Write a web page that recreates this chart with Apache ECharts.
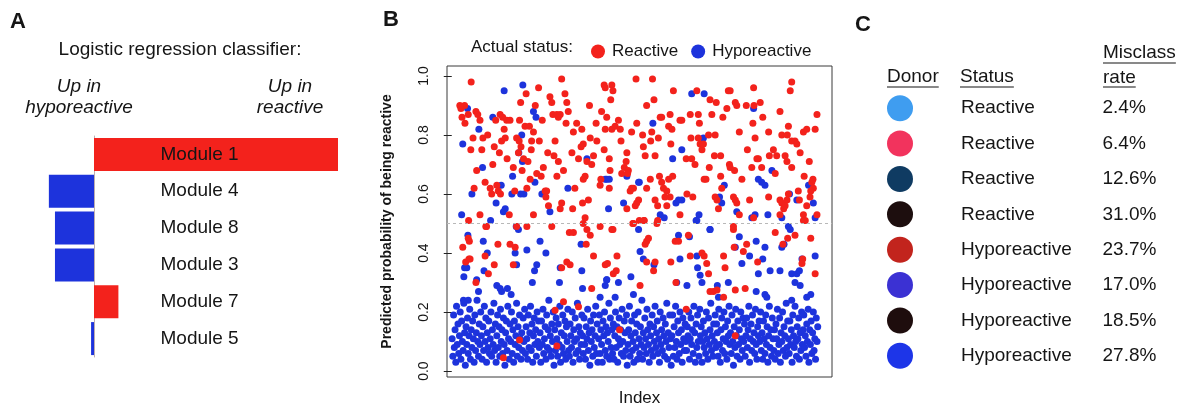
<!DOCTYPE html>
<html><head><meta charset="utf-8">
<script src="https://cdn.jsdelivr.net/npm/echarts@6/dist/echarts.min.js"></script>
<style>html,body{margin:0;padding:0;background:#fff}#c{width:1185px;height:408px}</style>
</head><body><div id="c"></div>
<script>
const FONT = '"Liberation Sans", Arial, Helvetica, sans-serif';

// ---------- Panel A: logistic regression weights ----------
const moduleNames = ['Module 1', 'Module 4', 'Module 8', 'Module 3', 'Module 7', 'Module 5'];
const moduleWeights = [1.0, -0.185, -0.16, -0.16, 0.10, -0.012];

// ---------- Panel B: predicted probability per sample index ----------
const reactive = [
 [25,.89],[35,.90],[36,.84],[45,.87],[52,.75],[53,.98],[61,.62],[46,.51],[66,.88],[71,.87],[77,.85],[82,.75],[85,.79],[68,.68],[91,.64],[105,.62],[109,.60],[77,.53],[93,.49],[116,.76],
 [132,.87],[139,.86],[150,.85],[159,.85],[130,.74],[136,.78],[146,.79],[151,.72],[123,.63],[127,.61],[133,.60],[157,.53],[168,.69],[185,.85],[188,.91],[203,.94],[177,.79],[184,.78],[189,.76],[182,.74],
 [196,.72],[200,.83],[205,.62],[212,.83],[223,.81],[218,.78],[237,.96],[239,.78],[217,.75],[214,.65],[250,.69],[244,.66],[247,.85],[255,.61],[259,.61],[257,.59],[223,.53],[264,.56],[268,.93],[273,.91],
 [276,.87],[282,.78],[287,.87],[291,.86],[296,.87],[300,.99],[279,.73],[291,.71],[287,.66],[300,.57],[309,.94],[314,.91],[318,.88],[312,.84],[296,.55],[330,.55],[328,.74],[332,.81],[341,.84],[355,.82],
 [359,.77],[353,.76],[364,.66],[359,.65],[369,.71],[373,.58],[357,.57],[364,.52],[378,.79],[394,.84],[396,.78],[387,.73],[382,.70],[405,.63],[407,.65],[409,.88],[405,.49],
 [22,.90],[28,.86],[58,.79],[98,.80],[112,.70],[120,.85],[143,.82],[172,.61],[192,.68],[208,.71],[228,.90],[232,.67],[262,.74],[305,.68],[336,.62],[346,.72],[376,.90],
 [416,.97],[419,.96],[437,.97],[440,.95],[434,.92],[423,.86],[419,.82],[437,.82],[446,.83],[455,.85],[460,.82],[462,.78],[416,.75],[430,.72],[432,.68],[430,.62],[437,.48],
 [478,.74],[476,.71],[471,.69],[482,.68],[480,.67],[464,.67],[491,.81],[505,.84],[503,.99],[496,.62],[491,.62],[487,.61],[510,.58],[501,.56],[505,.57],[478,.55],[496,.50],[512,.51],
 [532,.90],[552,.92],[548,.99],[521,.80],[546,.81],[543,.78],[523,.76],[528,.73],[555,.73],[542,.65],[532,.62],[567,.66],[555,.58],[562,.56],[569,.86],[564,.79],[525,.51],[560,.50],
 [573,.86],[596,.87],[592,.83],[601,.82],[605,.95],[598,.77],[573,.64],[578,.62],[592,.65],[587,.61],[596,.59],[582,.59],[587,.56],[603,.66],[623,.85],[623,.53],
 [628,.85],[653,.79],[651,.87],[640,.72],[655,.72],[664,.70],[658,.59],[642,.60],[669,.95],[673,.87],[676,.84],[673,.79],[678,.77],[683,.75],[687,.77],
 [705,.92],[722,.91],[710,.87],[719,.80],[701,.80],[717,.73],[703,.69],[689,.65],[694,.65],[734,.73],[734,.66],[719,.59],[724,.58],[728,.55],
 [740,.86],[751,.89],[755,.95],[760,.95],[774,.91],[778,.90],[785,.81],[758,.70],[760,.69],[772,.68],[769,.59],[774,.58],[778,.57],[737,.62],[769,.48],[785,.53],[792,.65],
 [804,.90],[824,.96],[825,.90],[822,.84],[842,.91],[849,.86],[828,.79],[807,.75],[833,.72],[837,.72],[846,.69],[819,.69],[813,.58],[824,.52],
 [865,.81],[878,.75],[867,.73],[887,.73],[883,.67],[865,.59],[896,.88],[901,.80],[896,.58],[901,.57],[906,.55],[896,.53],
 [916,.80],[928,.98],[924,.95],[919,.83],[928,.78],[937,.78],[942,.77],[910,.73],[915,.71],[951,.74],[928,.69],[919,.60],[915,.58],[910,.56],[946,.61],[960,.53],[949,.58],
 [960,.81],[969,.82],[976,.71],[992,.82],[997,.87],[986,.65],[983,.64],[987,.62],[980,.61],[978,.59],[962,.66],[969,.56],[997,.53],[965,.51],
 [30,.42],[45,.45],[48,.44],[38,.37],[47,.38],[50,.38],[66,.30],[91,.39],[100,.33],[95,.49],[116,.36],[126,.43],[159,.43],[173,.42],[168,.36],[177,.49],[205,.49],[273,.49],
 [300,.35],[314,.37],[323,.36],[321,.47],[332,.47],[367,.43],[378,.46],[369,.48],[387,.39],[382,.28],[419,.36],[359,.50],
 [185,.105],[141,.045],[282,.206],[287,.085],[305,.235],[346,.218],
 [440,.48],[494,.50],[525,.51],[562,.51],[532,.44],[537,.45],[528,.43],[610,.44],[619,.44],[646,.46],[425,.365],[451,.39],[441,.33],[449,.34],[532,.37],[551,.34],[555,.37],[598,.37],
 [651,.39],[683,.40],[689,.39],[696,.365],[701,.33],[705,.27],[714,.27],[724,.275],[742,.39],[746,.35],[742,.25],[769,.49],[771,.42],[796,.405],[805,.43],[774,.275],[801,.28],[835,.37],
 [883,.47],[904,.43],[917,.45],[937,.46],[958,.38],[956,.365],[980,.45],[992,.33],[960,.51],[514,.29],[640,.21],[612,.30],[458,.14],[774,.12]
];

const hyporeactive = [
 [43,.89],[30,.77],[55,.60],[27,.53],[74,.82],[84,.69],[112,.86],[143,.95],[135,.63],[121,.57],[146,.55],[141,.54],[164,.60],[166,.66],[194,.97],[191,.80],[183,.74],[193,.71],[188,.60],[197,.60],
 [176,.49],[223,.88],[230,.86],[227,.64],[246,.60],[268,.54],[317,.62],[369,.72],[419,.65],
 [423,.65],[430,.65],[428,.55],[478,.66],[510,.64],[512,.64],[469,.57],[549,.84],[569,.53],[603,.72],[612,.57],[619,.58],[628,.58],[580,.52],[628,.75],[655,.94],[687,.79],[675,.53],[667,.51],[689,.94],
 [731,.59],[737,.57],[705,.48],[744,.63],[778,.54],[824,.89],[837,.65],[846,.64],[855,.63],[828,.53],[819,.52],[874,.68],[863,.53],[901,.52],[922,.60],[942,.58],[919,.49],[974,.63],[987,.57],[992,.52],
 [44,.46],[41,.35],[35,.35],[33,.32],[68,.31],[73,.27],[86,.44],[97,.40],[88,.34],[106,.51],[123,.29],[132,.28],[136,.27],[152,.28],[162,.26],[173,.40],[177,.36],[182,.48],[205,.41],[220,.30],
 [226,.34],[232,.36],[241,.44],[257,.40],[296,.35],[294,.30],[355,.34],[353,.43],[357,.28],[423,.31],[419,.29],[32,.24],[45,.24],
 [510,.48],[514,.405],[523,.38],[552,.36],[619,.46],[649,.455],[623,.38],[669,.39],[671,.35],[678,.325],[683,.30],[705,.48],[725,.29],[728,.25],[755,.30],[774,.42],[785,.455],[792,.365],[813,.39],[831,.44],
 [837,.33],[849,.38],[855,.42],[869,.34],[896,.34],[901,.42],[907,.43],[924,.48],[928,.33],[942,.33],[949,.34],[937,.30],[951,.29],[956,.38],[992,.39],[423,.31],[405,.25],[446,.25],[455,.30],[489,.32],
 [496,.26],[614,.30],[642,.29],[831,.27],[855,.26],[860,.25],[928,.24],[669,.51],[969,.25],[980,.26],
 [1,.11],[3,.05],[5,.19],[7,.08],[9,.14],[11,.03],[13,.22],[15,.09],[17,.16],[19,.06],[21,.12],[23,.20],[25,.04],[27,.17],[29,.10],[31,.07],[33,.23],[35,.13],[37,.02],[39,.15],
 [41,.09],[43,.18],[45,.06],[47,.12],[49,.21],[51,.04],[53,.14],[55,.08],[57,.17],[59,.11],[61,.03],[63,.19],[65,.07],[67,.13],[69,.24],[71,.10],[73,.05],[75,.16],[77,.09],[79,.20],
 [81,.12],[83,.04],[85,.15],[87,.07],[89,.22],[91,.10],[93,.18],[95,.03],[97,.13],[99,.08],[101,.17],[103,.06],[105,.11],[107,.20],[109,.05],[111,.14],[113,.09],[115,.23],[117,.07],[119,.16],
 [121,.03],[123,.12],[125,.19],[127,.08],[129,.15],[131,.05],[133,.21],[135,.10],[137,.14],[139,.06],[141,.18],[143,.09],[145,.02],[147,.13],[149,.17],[151,.07],[153,.22],[155,.11],[157,.04],[159,.16],
 [161,.10],[163,.20],[165,.06],[167,.14],[169,.03],[171,.17],[173,.09],[175,.12],[177,.23],[179,.05],[181,.15],[183,.08],[185,.19],[187,.11],[189,.04],[191,.13],[193,.07],[195,.18],[197,.10],[199,.21],
 [201,.06],[203,.15],[205,.11],[207,.04],[209,.19],[211,.08],[213,.13],[215,.22],[217,.07],[219,.16],[221,.03],[223,.12],[225,.18],[227,.09],[229,.14],[231,.05],[233,.20],[235,.10],[237,.17],[239,.08],
 [241,.13],[243,.03],[245,.17],[247,.09],[249,.21],[251,.06],[253,.11],[255,.15],[257,.04],[259,.19],[261,.08],[263,.14],[265,.24],[267,.07],[269,.12],[271,.05],[273,.16],[275,.10],[277,.20],[279,.02],
 [281,.14],[283,.07],[285,.18],[287,.11],[289,.05],[291,.16],[293,.09],[295,.22],[297,.03],[299,.13],[301,.08],[303,.19],[305,.06],[307,.12],[309,.17],[311,.04],[313,.15],[315,.10],[317,.21],[319,.07],
 [321,.05],[323,.16],[325,.12],[327,.08],[329,.20],[331,.03],[333,.14],[335,.10],[337,.18],[339,.06],[341,.11],[343,.23],[345,.07],[347,.15],[349,.04],[351,.13],[353,.09],[355,.19],[357,.12],[359,.06],
 [361,.18],[363,.09],[365,.04],[367,.15],[369,.11],[371,.21],[373,.07],[375,.13],[377,.02],[379,.17],[381,.10],[383,.14],[385,.05],[387,.19],[389,.08],[391,.12],[393,.22],[395,.06],[397,.16],[399,.03],
 [401,.11],[403,.19],[405,.06],[407,.14],[409,.09],[411,.03],[413,.17],[415,.12],[417,.20],[419,.07],[421,.15],[423,.05],[425,.13],[427,.10],[429,.23],[431,.04],[433,.18],[435,.08],[437,.14],[439,.06],
 [441,.16],[443,.04],[445,.12],[447,.20],[449,.08],[451,.15],[453,.03],[455,.11],[457,.18],[459,.09],[461,.14],[463,.06],[465,.21],[467,.10],[469,.05],[471,.17],[473,.13],[475,.07],[477,.19],[479,.02],
 [481,.09],[483,.14],[485,.22],[487,.05],[489,.12],[491,.17],[493,.07],[495,.10],[497,.03],[499,.19],[501,.13],[503,.08],[505,.16],[507,.04],[509,.20],[511,.11],[513,.06],[515,.15],[517,.09],[519,.24],
 [521,.04],[523,.13],[525,.08],[527,.18],[529,.11],[531,.06],[533,.21],[535,.14],[537,.09],[539,.03],[541,.16],[543,.12],[545,.07],[547,.19],[549,.05],[551,.15],[553,.10],[555,.22],[557,.08],[559,.13],
 [561,.17],[563,.06],[565,.11],[567,.03],[569,.20],[571,.09],[573,.14],[575,.07],[577,.18],[579,.12],[581,.05],[583,.16],[585,.10],[587,.23],[589,.04],[591,.13],[593,.08],[595,.19],[597,.11],[599,.02],
 [601,.12],[603,.19],[605,.05],[607,.15],[609,.08],[611,.22],[613,.10],[615,.04],[617,.17],[619,.13],[621,.06],[623,.20],[625,.09],[627,.14],[629,.03],[631,.18],[633,.11],[635,.07],[637,.16],[639,.10],
 [641,.07],[643,.15],[645,.12],[647,.20],[649,.04],[651,.11],[653,.18],[655,.09],[657,.14],[659,.06],[661,.22],[663,.13],[665,.03],[667,.16],[669,.08],[671,.19],[673,.10],[675,.05],[677,.21],[679,.12],
 [681,.15],[683,.03],[685,.10],[687,.17],[689,.08],[691,.13],[693,.06],[695,.20],[697,.11],[699,.04],[701,.18],[703,.09],[705,.14],[707,.23],[709,.07],[711,.12],[713,.05],[715,.16],[717,.10],[719,.19],
 [721,.08],[723,.16],[725,.13],[727,.05],[729,.21],[731,.09],[733,.03],[735,.14],[737,.18],[739,.07],[741,.11],[743,.20],[745,.06],[747,.15],[749,.10],[751,.04],[753,.17],[755,.12],[757,.22],[759,.09],
 [761,.13],[763,.06],[765,.19],[767,.10],[769,.02],[771,.15],[773,.08],[775,.21],[777,.12],[779,.05],[781,.17],[783,.09],[785,.14],[787,.04],[789,.20],[791,.11],[793,.07],[795,.18],[797,.10],[799,.16],
 [801,.05],[803,.12],[805,.18],[807,.08],[809,.14],[811,.22],[813,.03],[815,.11],[817,.16],[819,.07],[821,.19],[823,.10],[825,.13],[827,.06],[829,.21],[831,.09],[833,.04],[835,.15],[837,.12],[839,.17],
 [841,.10],[843,.20],[845,.07],[847,.13],[849,.04],[851,.17],[853,.11],[855,.06],[857,.19],[859,.09],[861,.15],[863,.03],[865,.12],[867,.22],[869,.08],[871,.14],[873,.05],[875,.18],[877,.11],[879,.07],
 [881,.14],[883,.04],[885,.16],[887,.11],[889,.21],[891,.06],[893,.09],[895,.18],[897,.03],[899,.13],[901,.10],[903,.20],[905,.07],[907,.15],[909,.12],[911,.05],[913,.23],[915,.08],[917,.17],[919,.11],
 [921,.06],[923,.17],[925,.09],[927,.14],[929,.03],[931,.19],[933,.12],[935,.08],[937,.22],[939,.10],[941,.05],[943,.15],[945,.11],[947,.18],[949,.04],[951,.13],[953,.07],[955,.20],[957,.09],[959,.14],
 [961,.19],[963,.08],[965,.12],[967,.05],[969,.16],[971,.10],[973,.21],[975,.03],[977,.14],[979,.09],[981,.17],[983,.06],[985,.13],[987,.20],[989,.07],[991,.11],[993,.04],[995,.18],[997,.10],[999,.15]
];
const probTicks = [0, 0.2, 0.4, 0.6, 0.8, 1.0];
const threshold = 0.5;

// ---------- Panel C: donor table ----------
const donorColors = ['#3f9df0', '#f2335d', '#0f3b62', '#1d0e0e', '#c2241d', '#3b31d3', '#1e0d0d', '#1d35e8'];
const donorStatus = ['Reactive', 'Reactive', 'Reactive', 'Reactive', 'Hyporeactive', 'Hyporeactive', 'Hyporeactive', 'Hyporeactive'];
const misclassRate = [2.4, 6.4, 12.6, 31.0, 23.7, 17.0, 18.5, 27.8];

const RED = '#f3221c', BLUE = '#1d33dc', INK = '#151515';
const MODULE_LABEL_X = 0.2705;   // axis position where module names start (layout)

const cvs = document.createElement('canvas').getContext('2d');
function textW(t, font) { cvs.font = font; return cvs.measureText(t).width; }

function txt(x, y, text, size, opts) {
  opts = opts || {};
  return { type: 'text', x: x, y: y, silent: true, style: {
    text: text, fill: opts.fill || INK,
    font: (opts.style || '') + ' ' + (opts.weight || 'normal') + ' ' + size + 'px ' + FONT,
    textAlign: opts.align || 'left', textVerticalAlign: 'middle' } };
}
function underline(x, y, text, size) {
  const w = textW(text, 'normal ' + size + 'px ' + FONT);
  return { type: 'line', silent: true, shape: { x1: x, y1: y, x2: x + w, y2: y }, style: { stroke: INK, lineWidth: 1.2 } };
}

const chart = echarts.init(document.getElementById('c'), null, { renderer: 'canvas' });
const rowIdx = donorStatus.map((_, i) => i);

chart.setOption({
  animation: false,
  backgroundColor: '#fff',
  textStyle: { fontFamily: FONT },
  legend: {
    data: ['Reactive', 'Hyporeactive'], left: 586, top: 38, icon: 'circle',
    itemWidth: 14, itemHeight: 14, itemGap: 13, selectedMode: false,
    textStyle: { fontSize: 17, color: INK, fontFamily: FONT, padding: [0, 0, 0, 2] }
  },
  grid: [
    { left: 20, top: 136, width: 318, height: 221, outerBoundsMode: 'none', containLabel: false },
    { left: 447, top: 66, width: 385, height: 311, show: true, borderColor: '#3a3a3a', borderWidth: 1,
      backgroundColor: 'transparent', outerBoundsMode: 'none', containLabel: false },
    { left: 887, top: 90.5, width: 26, height: 283, outerBoundsMode: 'none', containLabel: false }
  ],
  xAxis: [
    { gridIndex: 0, type: 'value', min: -0.3033, max: 1, show: false },
    { gridIndex: 1, type: 'value', min: -13, max: 1038, axisLine: { show: false }, axisTick: { show: false },
      axisLabel: { show: false }, splitLine: { show: false },
      name: 'Index', nameLocation: 'middle', nameGap: 13,
      nameTextStyle: { fontSize: 17, color: INK, fontFamily: FONT } },
    { gridIndex: 2, type: 'value', min: 0, max: 1, show: false }
  ],
  yAxis: [
    { gridIndex: 0, type: 'category', data: moduleNames, inverse: true,
      axisLine: { show: true, onZero: true, lineStyle: { color: '#bdaeb0', width: 1 } },
      axisTick: { show: false }, axisLabel: { show: false }, splitLine: { show: false } },
    { gridIndex: 1, type: 'value', min: -0.02, max: 1.034,
      axisLine: { show: false },
      axisTick: { show: true, length: 8, lineStyle: { color: '#222' }, customValues: probTicks },
      axisLabel: { show: true, rotate: 90, margin: 16, fontSize: 14, color: INK, fontFamily: FONT,
        customValues: probTicks, formatter: v => v.toFixed(1) },
      splitLine: { show: false },
      name: 'Predicted probability of being reactive', nameLocation: 'middle', nameGap: 53,
      nameTextStyle: { fontSize: 14, fontWeight: 'bold', color: INK, fontFamily: FONT } },
    { gridIndex: 2, type: 'category', data: rowIdx, inverse: true, show: false }
  ],
  series: [
    { type: 'bar', xAxisIndex: 0, yAxisIndex: 0, barWidth: 33, silent: true,
      data: moduleWeights.map(v => ({ value: v, itemStyle: { color: v >= 0 ? RED : BLUE } })) },
    { type: 'scatter', xAxisIndex: 0, yAxisIndex: 0, symbolSize: 1, silent: true, z: 5,
      itemStyle: { color: 'rgba(0,0,0,0)', opacity: 1 },
      data: moduleNames.map(n => [MODULE_LABEL_X, n]),
      label: { show: true, position: 'right', distance: 0, fontSize: 19, color: INK, fontFamily: FONT,
        formatter: p => p.value[1] } },
    { name: 'Hyporeactive', type: 'scatter', xAxisIndex: 1, yAxisIndex: 1, symbolSize: 7,
      itemStyle: { color: BLUE, opacity: 1 }, data: hyporeactive, silent: true },
    { name: 'Reactive', type: 'scatter', xAxisIndex: 1, yAxisIndex: 1, symbolSize: 7,
      itemStyle: { color: RED, opacity: 1 }, data: reactive, silent: true,
      markLine: { silent: true, symbol: 'none', label: { show: false },
        lineStyle: { color: '#b8b8b8', type: [3, 3], width: 1 }, data: [{ yAxis: threshold }] } },
    { type: 'scatter', xAxisIndex: 2, yAxisIndex: 2, symbolSize: 26, silent: true,
      itemStyle: { opacity: 1 },
      data: rowIdx.map(i => ({ value: [0.5, i], itemStyle: { color: donorColors[i], opacity: 1 } })),
      label: { show: true, position: 'right', distance: 48, fontSize: 19, color: INK, fontFamily: FONT,
        formatter: p => donorStatus[p.value[1]] } },
    { type: 'scatter', xAxisIndex: 2, yAxisIndex: 2, symbolSize: 1, silent: true, z: 1,
      itemStyle: { color: 'rgba(0,0,0,0)', opacity: 1 },
      data: rowIdx.map(i => [0.5, i]),
      label: { show: true, position: 'right', distance: 202, fontSize: 19, color: INK, fontFamily: FONT,
        formatter: p => misclassRate[p.value[1]].toFixed(1) + '%' } }
  ],
  graphic: [
    txt(10, 22, 'A', 22, { weight: 'bold' }),
    txt(383, 20, 'B', 22, { weight: 'bold' }),
    txt(855, 25, 'C', 22, { weight: 'bold' }),
    txt(180, 50, 'Logistic regression classifier:', 19, { align: 'center' }),
    txt(79, 87, 'Up in', 19, { align: 'center', style: 'italic' }),
    txt(79, 108, 'hyporeactive', 19, { align: 'center', style: 'italic' }),
    txt(290, 87, 'Up in', 19, { align: 'center', style: 'italic' }),
    txt(290, 108, 'reactive', 19, { align: 'center', style: 'italic' }),
    txt(471, 47, 'Actual status:', 17),
    txt(887, 77, 'Donor', 19), underline(887, 87, 'Donor', 19),
    txt(960, 77, 'Status', 19), underline(960, 87, 'Status', 19),
    txt(1103, 53, 'Misclass', 19), underline(1103, 63, 'Misclass', 19),
    txt(1103, 78, 'rate', 19), underline(1103, 87, 'rate', 19)
  ]
});
</script></body></html>
